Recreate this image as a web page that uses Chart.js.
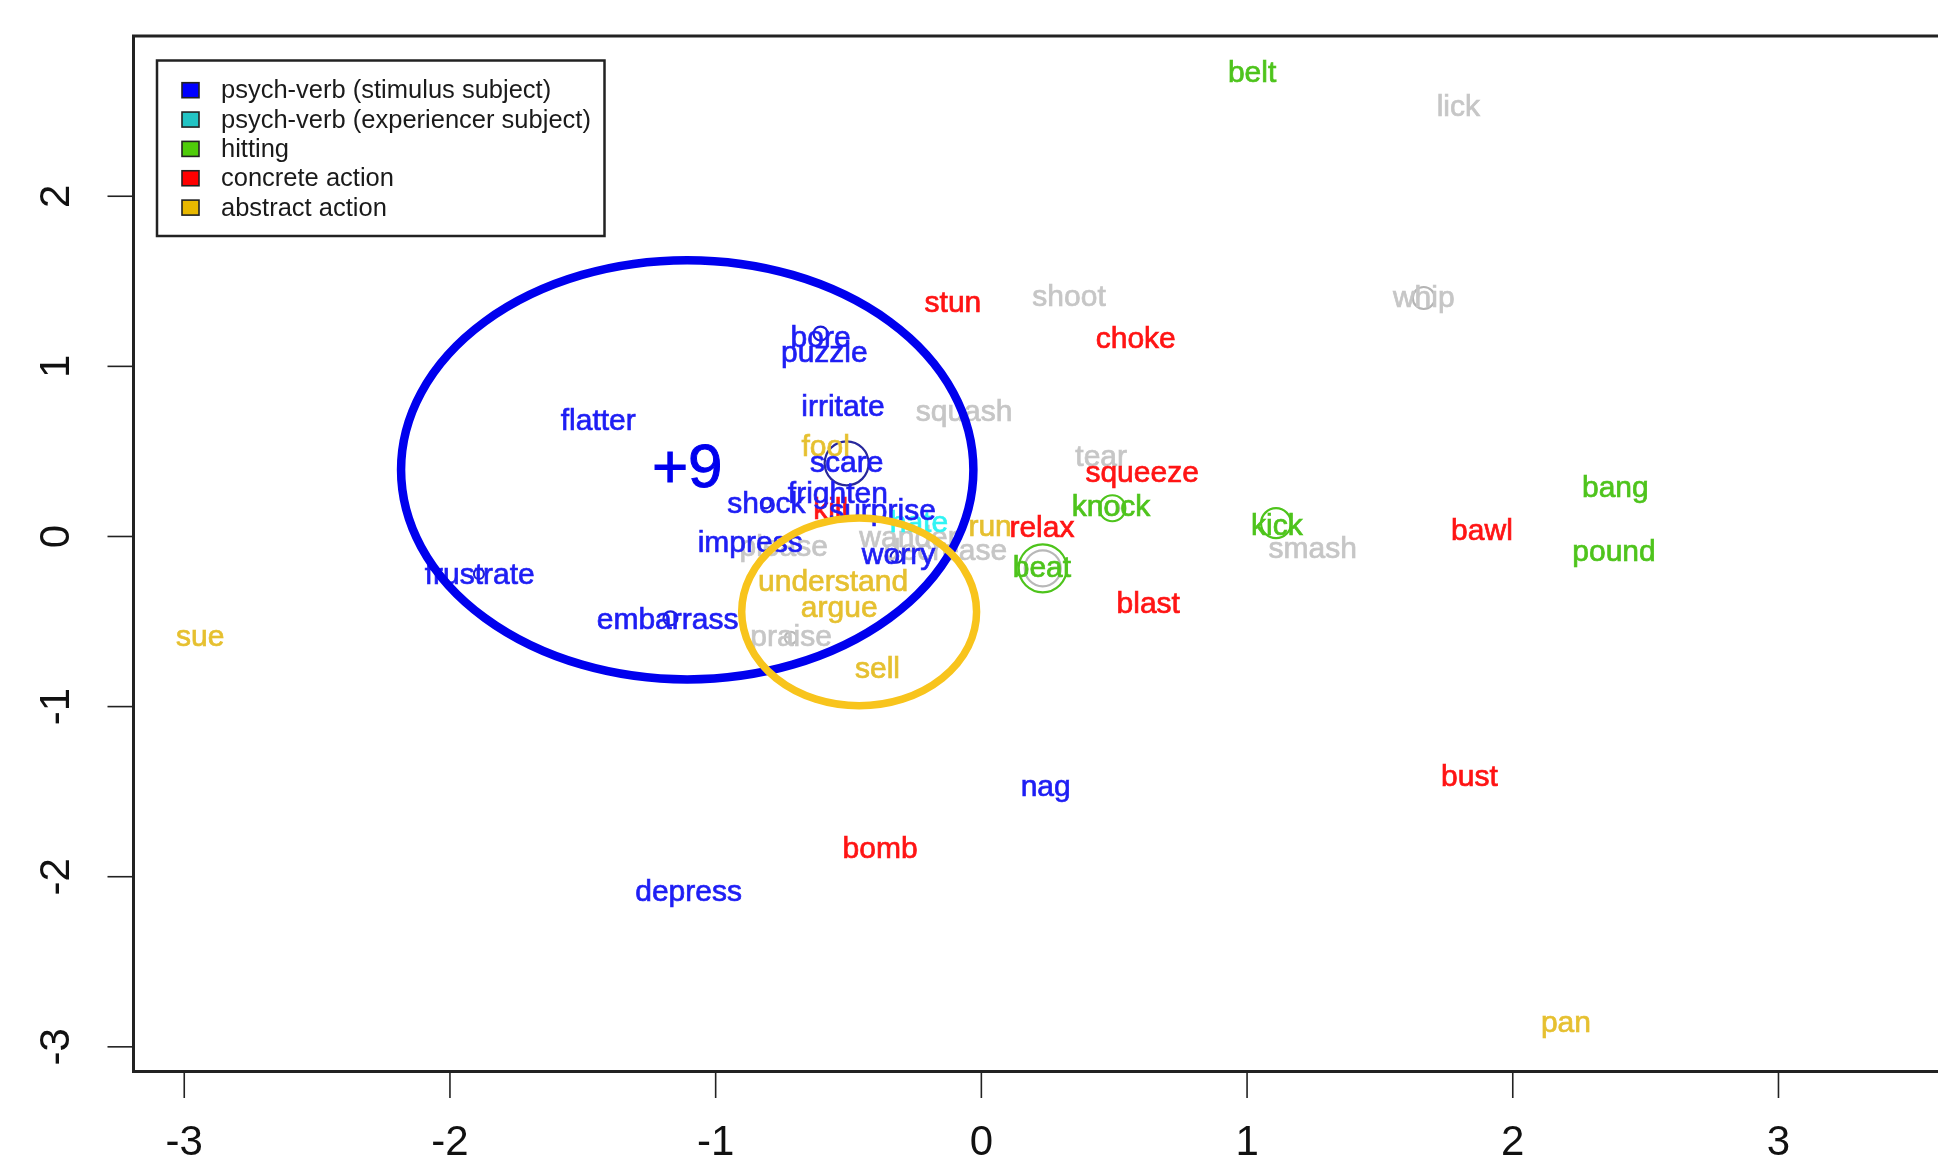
<!DOCTYPE html>
<html>
<head>
<meta charset="utf-8">
<script src="https://cdn.jsdelivr.net/npm/chart.js@4.4.1/dist/chart.umd.min.js"></script>
<style>
  html, body { margin: 0; padding: 0; background: #fff; overflow: hidden; }
  #wrap { width: 1938px; height: 1158px; }
</style>
</head>
<body>
<div id="wrap"><canvas id="mds" width="1938" height="1158"></canvas></div>
<script>
// axis ticks
const xTicks = [-3, -2, -1, 0, 1, 2, 3]
const yTicks = [-3, -2, -1, 0, 1, 2]

// legend categories
const categories = [
  "psych-verb (stimulus subject)",
  "psych-verb (experiencer subject)",
  "hitting",
  "concrete action",
  "abstract action",
]

// words by group (x, y)
const otherWords = ["shoot", "whip", "lick", "squash", "tear", "smash", "please", "praise", "wander", "decrease"]
const otherX = [0.330, 1.665, 1.795, -0.065, 0.451, 1.247, -0.744, -0.716, -0.274, -0.135]
const otherY = [1.403, 1.395, 2.522, 0.727, 0.465, -0.080, -0.065, -0.596, -0.015, -0.087]

const abstractWords = ["fool", "run", "understand", "argue", "sell", "sue", "pan"]
const abstractX = [-0.586, 0.033, -0.558, -0.535, -0.391, -2.940, 2.200]
const abstractY = [0.523, 0.051, -0.269, -0.422, -0.785, -0.596, -2.863]

const concreteWords = ["stun", "choke", "squeeze", "relax", "blast", "bawl", "bust", "bomb", "kill"]
const concreteX = [-0.107, 0.581, 0.605, 0.228, 0.628, 1.884, 1.837, -0.381, -0.567]
const concreteY = [1.366, 1.156, 0.371, 0.044, -0.400, 0.029, -1.417, -1.839, 0.153]

const hittingWords = ["belt", "knock", "kick", "beat", "bang", "pound"]
const hittingX = [1.019, 0.488, 1.112, 0.228, 2.386, 2.381]
const hittingY = [2.718, 0.167, 0.058, -0.189, 0.283, -0.094]

const experiencerWords = ["hate"]
const experiencerX = [-0.235]
const experiencerY = [0.073]

const stimulusWords = ["bore", "puzzle", "flatter", "irritate", "scare", "frighten", "shock", "surprise",
  "impress", "worry", "frustrate", "embarrass", "nag", "depress"]
const stimulusX = [-0.605, -0.591, -1.442, -0.521, -0.507, -0.540, -0.809, -0.372,
  -0.870, -0.312, -1.888, -1.181, 0.242, -1.102]
const stimulusY = [1.163, 1.076, 0.676, 0.756, 0.429, 0.247, 0.189, 0.145,
  -0.044, -0.116, -0.233, -0.494, -1.475, -2.093]

// open circle markers
const ringX = [-0.605, -0.507, -0.811, -0.319, -1.891, -1.170, 0.493, 0.493, 1.109, 0.231, 0.231, 1.665, -0.717]
const ringY = [1.193, 0.430, 0.195, -0.119, -0.220, -0.481, 0.166, 0.166, 0.078, -0.187, -0.187, 1.402, -0.596]
const ringSize = [7, 22, 5, 6, 5, 7, 13, 7, 15, 24, 18, 11, 6]
const ringColor = ["#1c1cd8", "#28289c", "#1c1cd8", "#1c1cd8", "#1c1cd8", "#1c1cd8",
  "#4ec41c", "#b8b8b8", "#4ec41c", "#4ec41c", "#b8b8b8", "#b4b4b4", "#b8b8b8"]

// cluster ellipses
const clusterX = [-1.107, -0.460]
const clusterY = [0.392, -0.443]
const clusterRx = [1.077, 0.442]
const clusterRy = [1.232, 0.552]
const clusterLabel = ["+9", ""]

const FONT = "'Liberation Sans', Arial, Helvetica, sans-serif"

const groups = [
  { name: "other", words: otherWords, xs: otherX, ys: otherY, color: "#c6c6c6" },
  { name: categories[4], words: abstractWords, xs: abstractX, ys: abstractY, color: "#e6c030" },
  { name: categories[3], words: concreteWords, xs: concreteX, ys: concreteY, color: "#ff1414" },
  { name: categories[2], words: hittingWords, xs: hittingX, ys: hittingY, color: "#4ec41c" },
  { name: categories[1], words: experiencerWords, xs: experiencerX, ys: experiencerY, color: "#30f4f4" },
  { name: categories[0], words: stimulusWords, xs: stimulusX, ys: stimulusY, color: "#1e1ef4" },
]
const legendFill = ["#0000ff", "#22c4c4", "#4fcc0a", "#ff0000", "#e8b800"]

const datasets = groups.map((g) => ({
  label: g.name,
  words: g.words,
  textColor: g.color,
  data: g.words.map((w, i) => ({ x: g.xs[i], y: g.ys[i] })),
  pointRadius: 0,
  pointHoverRadius: 0,
}))

datasets.push({
  label: "rings",
  data: ringX.map((x, i) => ({ x: x, y: ringY[i] })),
  pointRadius: ringSize,
  pointHoverRadius: ringSize,
  pointBorderColor: ringColor,
  pointBackgroundColor: "rgba(0,0,0,0)",
  pointBorderWidth: 2.2,
})

// words, ellipses, axes and legend in R style
const rPlot = {
  id: "rPlot",
  afterDatasetsDraw(chart) {
    const ctx = chart.ctx
    const xs = chart.scales.x
    const ys = chart.scales.y

    ctx.save()
    ctx.textAlign = "center"
    ctx.textBaseline = "middle"
    ctx.font = "30px " + FONT
    ctx.lineWidth = 0.7
    chart.data.datasets.forEach((ds, i) => {
      if (!ds.words) return
      const meta = chart.getDatasetMeta(i)
      ctx.fillStyle = ds.textColor
      ctx.strokeStyle = ds.textColor
      meta.data.forEach((pt, j) => {
        ctx.fillText(ds.words[j], pt.x, pt.y)
        ctx.strokeText(ds.words[j], pt.x, pt.y)
      })
    })

    // cluster ellipses
    const ellipseColor = ["#0000ee", "#f8c41c"]
    const ellipseWidth = [8.5, 7.5]
    clusterX.forEach((cx, i) => {
      const px = xs.getPixelForValue(cx)
      const py = ys.getPixelForValue(clusterY[i])
      const rx = Math.abs(xs.getPixelForValue(cx + clusterRx[i]) - px)
      const ry = Math.abs(ys.getPixelForValue(clusterY[i] + clusterRy[i]) - py)
      ctx.beginPath()
      ctx.ellipse(px, py, rx, ry, 0, 0, Math.PI * 2)
      ctx.strokeStyle = ellipseColor[i]
      ctx.lineWidth = ellipseWidth[i]
      ctx.stroke()
      if (clusterLabel[i]) {
        ctx.fillStyle = ellipseColor[i]
        ctx.strokeStyle = ellipseColor[i]
        ctx.lineWidth = 1
        ctx.font = "62px " + FONT
        ctx.fillText(clusterLabel[i], px, py)
        ctx.strokeText(clusterLabel[i], px, py)
      }
    })
    ctx.restore()
  },
  afterDraw(chart) {
    const ctx = chart.ctx
    const xs = chart.scales.x
    const ys = chart.scales.y
    const a = chart.chartArea
    ctx.save()
    // box, right side falls outside the picture
    ctx.strokeStyle = "#222"
    ctx.lineWidth = 3
    ctx.strokeRect(a.left, a.top, a.right - a.left + 20, a.bottom - a.top)

    ctx.fillStyle = "#111"
    ctx.font = "42px " + FONT
    ctx.textAlign = "center"
    ctx.textBaseline = "middle"
    ctx.lineWidth = 1.6
    xTicks.forEach((v) => {
      const px = xs.getPixelForValue(v)
      ctx.beginPath()
      ctx.moveTo(px, a.bottom)
      ctx.lineTo(px, a.bottom + 26.5)
      ctx.stroke()
      ctx.fillText(String(v), px, a.bottom + 72)
    })
    yTicks.forEach((v) => {
      const py = ys.getPixelForValue(v)
      ctx.beginPath()
      ctx.moveTo(a.left - 26, py)
      ctx.lineTo(a.left, py)
      ctx.stroke()
      ctx.save()
      ctx.translate(a.left - 76, py)
      ctx.rotate(-Math.PI / 2)
      ctx.fillText(String(v), 0, 0)
      ctx.restore()
    })

    // legend box
    const lx = 157, ly = 60.5, lw = 447.5, lh = 175.5
    ctx.fillStyle = "#fff"
    ctx.fillRect(lx, ly, lw, lh)
    ctx.lineWidth = 2.5
    ctx.strokeStyle = "#222"
    ctx.strokeRect(lx, ly, lw, lh)
    ctx.font = "25.5px " + FONT
    ctx.textAlign = "left"
    categories.forEach((c, i) => {
      const ry = 90.2 + i * 29.35
      ctx.fillStyle = legendFill[i]
      ctx.fillRect(182, ry - 7.5, 17, 15)
      ctx.lineWidth = 1.6
      ctx.strokeRect(182, ry - 7.5, 17, 15)
      ctx.fillStyle = "#1a1a1a"
      ctx.fillText(c, 221, ry + 1)
    })
    ctx.restore()
  },
}

new Chart(document.getElementById("mds"), {
  type: "scatter",
  data: { datasets: datasets },
  options: {
    responsive: false,
    animation: false,
    events: [],
    layout: { autoPadding: false, padding: { top: 36, left: 0, right: 0, bottom: 0 } },
    plugins: {
      legend: { display: false },
      tooltip: { enabled: false },
    },
    scales: {
      x: {
        type: "linear",
        min: -3.191,
        max: 3.6004,
        grid: { display: false },
        border: { display: false },
        ticks: { display: false },
        afterBuildTicks: (s) => { s.ticks = xTicks.map((v) => ({ value: v })) },
        afterFit: (s) => { s.height = 86.5 },
      },
      y: {
        type: "linear",
        min: -3.145,
        max: 2.942,
        grid: { display: false },
        border: { display: false },
        ticks: { display: false },
        afterBuildTicks: (s) => { s.ticks = yTicks.map((v) => ({ value: v })) },
        afterFit: (s) => { s.width = 133.5 },
      },
    },
  },
  plugins: [rPlot],
})
</script>
</body>
</html>
